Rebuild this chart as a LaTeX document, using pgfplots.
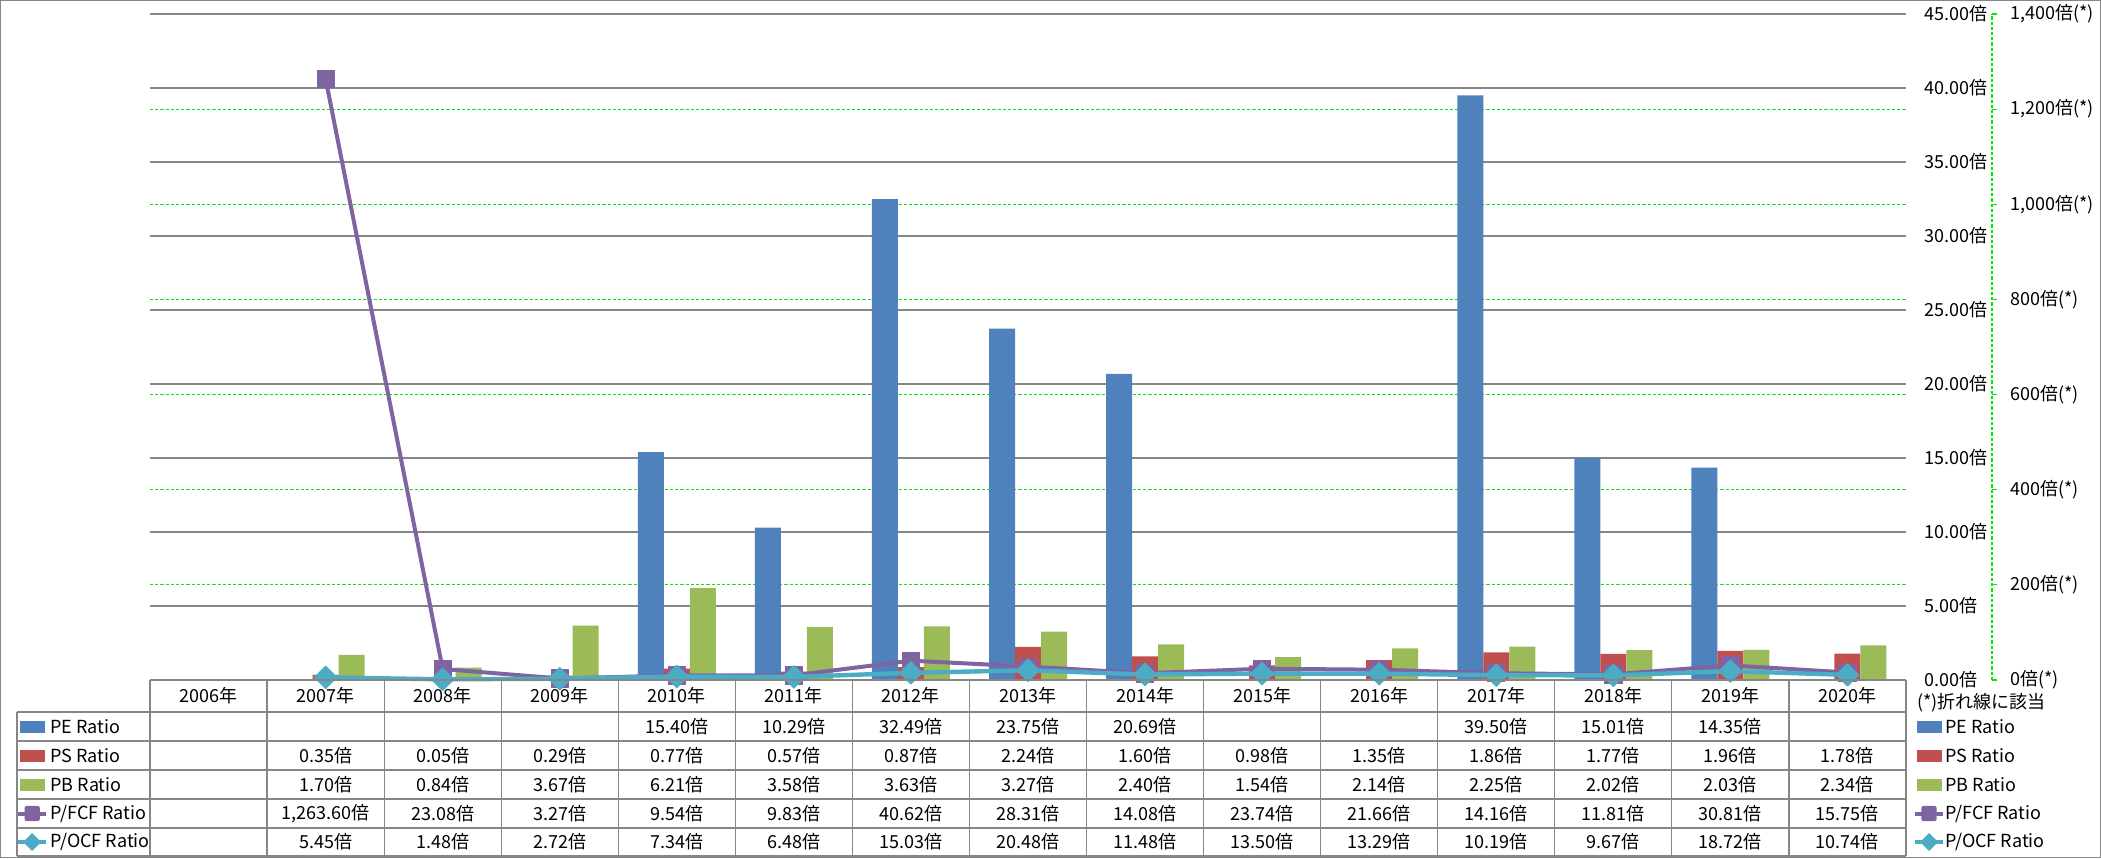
\documentclass[border=0pt]{standalone}
\usepackage{pgfplots}
\pgfplotsset{compat=1.18}
\usepackage{fontspec}
\setmainfont{Noto Sans CJK JP}
\definecolor{peblue}{HTML}{4F81BD}
\definecolor{psred}{HTML}{C0504D}
\definecolor{pbgreen}{HTML}{9BBB59}
\definecolor{fcfpurple}{HTML}{8064A2}
\definecolor{ocfcyan}{HTML}{4BACC6}
\definecolor{gridgray}{HTML}{868686}
\definecolor{gridgreen}{RGB}{0,235,0}
\newcommand\legbar[3]{\begin{scope}[shift={(#2,#3)}]\fill[#1] (-6.25pt,-3pt) rectangle (6.25pt,3pt);\end{scope}}
\newcommand\legfcf[2]{\begin{scope}[shift={(#1,#2)}]\draw[fcfpurple,line width=2pt] (-7pt,0) -- (7pt,0); \fill[fcfpurple, rounded corners=1pt] (-3.8pt,-3.8pt) rectangle (3.8pt,3.8pt);\end{scope}}
\newcommand\legocf[2]{\begin{scope}[shift={(#1,#2)}]\draw[ocfcyan,line width=2pt] (-7pt,0) -- (7pt,0); \fill[ocfcyan] (0,4.5pt) -- (4.5pt,0) -- (0,-4.5pt) -- (-4.5pt,0) -- cycle;\end{scope}}
\begin{document}
\fontsize{9pt}{11pt}\selectfont
\begin{tikzpicture}[font=\fontsize{9pt}{11pt}\selectfont]
\useasboundingbox (-75pt,-89pt) rectangle (975.5pt,340pt);
\pgfplotsset{base/.style={scale only axis, width=878pt, height=333pt, at={(0pt,0pt)}, anchor=south west,
  xmin=-0.5, xmax=14.5, xtick=\empty, major tick length=0pt, axis line style={draw=none},
  /pgf/number format/assume math mode=true,
  every tick label/.append style={font=\fontsize{9pt}{11pt}\selectfont}}}
% secondary (green) grid
\begin{axis}[base, ymin=0, ymax=1400, ytick={200,400,...,1200}, yticklabels={}, ymajorgrids,
  grid style={draw=gridgreen, line width=0.6pt, dash pattern=on 1.6pt off 1pt}]
\addplot[draw=none] coordinates {(0,0)};
\end{axis}
% bars on primary axis
\begin{axis}[base, ymin=0, ymax=45, ytick={0,5,...,45}, ymajorgrids,
  grid style={draw=gridgray, line width=0.6pt}, yticklabel pos=right,
  yticklabel={\pgfmathprintnumber[fixed,fixed zerofill,precision=2]{\tick}倍},
  yticklabel style={anchor=west, inner sep=0pt, xshift=9pt}]
\addplot[ybar, bar width=13pt, bar shift=-13pt, fill=peblue, draw=none] coordinates {(4,15.40) (5,10.29) (6,32.49) (7,23.75) (8,20.69) (11,39.50) (12,15.01) (13,14.35)};
\addplot[ybar, bar width=13pt, bar shift=0pt, fill=psred, draw=none] coordinates {(1,0.35) (2,0.05) (3,0.29) (4,0.77) (5,0.57) (6,0.87) (7,2.24) (8,1.60) (9,0.98) (10,1.35) (11,1.86) (12,1.77) (13,1.96) (14,1.78)};
\addplot[ybar, bar width=13pt, bar shift=13pt, fill=pbgreen, draw=none] coordinates {(1,1.70) (2,0.84) (3,3.67) (4,6.21) (5,3.58) (6,3.63) (7,3.27) (8,2.40) (9,1.54) (10,2.14) (11,2.25) (12,2.02) (13,2.03) (14,2.34)};
\end{axis}
% lines on secondary axis
\begin{axis}[base, ymin=0, ymax=1400, hide axis, clip=false]
\addplot[fcfpurple, line width=2pt, line join=round, mark=square*, mark size=4.3pt,
  mark options={fill=fcfpurple, draw=fcfpurple, line width=0.4pt, rounded corners=1pt}]
  coordinates {(1,1263.60) (2,23.08) (3,3.27) (4,9.54) (5,9.83) (6,40.62) (7,28.31) (8,14.08) (9,23.74) (10,21.66) (11,14.16) (12,11.81) (13,30.81) (14,15.75)};
\addplot[ocfcyan, line width=2.2pt, line join=round, mark=square*, mark size=4pt,
  mark options={rotate=45, fill=ocfcyan, draw=ocfcyan, line width=0.4pt}]
  coordinates {(1,5.45) (2,1.48) (3,2.72) (4,7.34) (5,6.48) (6,15.03) (7,20.48) (8,11.48) (9,13.50) (10,13.29) (11,10.19) (12,9.67) (13,18.72) (14,10.74)};
\end{axis}
% secondary axis line and labels
\begin{axis}[scale only axis, width=921pt, height=333pt, at={(0pt,0pt)}, anchor=south west,
  xmin=0, xmax=1, ymin=0, ymax=1400, axis x line=none, axis y line*=right,
  y axis line style={draw=gridgreen, line width=0.6pt, dash pattern=on 1.6pt off 1pt},
  ytick={0,200,...,1400}, ytick style={draw=gridgreen, line width=0.6pt, solid},
  major tick length=2.5pt, tick align=outside,
  /pgf/number format/assume math mode=true,
  every tick label/.append style={font=\fontsize{9pt}{11pt}\selectfont},
  yticklabel={\pgfmathprintnumber[fixed,precision=0,1000 sep={,}]{\tick}倍(*)},
  yticklabel style={anchor=west, inner sep=0pt, xshift=6.5pt}]
\addplot[draw=none] coordinates {(0,0)};
\end{axis}
% data table
\begin{scope}[gridgray, line width=0.6pt]
\draw (0pt,0pt) -- (878pt,0pt);
\foreach \y in {-16,-30.5,-45,-59.5,-74,-88} \draw (-66.5pt,\y pt) -- (878pt,\y pt);
\foreach \k in {0,...,15} \draw ({\k*58.5333pt},0pt) -- ({\k*58.5333pt},-88pt);
\draw (-66.5pt,-16pt) -- (-66.5pt,-88pt);
\end{scope}
\foreach \k in {0,...,14} {\pgfmathtruncatemacro\yr{2006+\k}\node at ({(\k+0.5)*58.5333pt},-8pt) {\yr{}年};}
\foreach \k/\v in {4/15.40,5/10.29,6/32.49,7/23.75,8/20.69,11/39.50,12/15.01,13/14.35}
  \node at ({(\k+0.5)*58.5333pt},-23.25pt) {\v{}倍};
\foreach \k/\v in {1/0.35,2/0.05,3/0.29,4/0.77,5/0.57,6/0.87,7/2.24,8/1.60,9/0.98,10/1.35,11/1.86,12/1.77,13/1.96,14/1.78}
  \node at ({(\k+0.5)*58.5333pt},-37.75pt) {\v{}倍};
\foreach \k/\v in {1/1.70,2/0.84,3/3.67,4/6.21,5/3.58,6/3.63,7/3.27,8/2.40,9/1.54,10/2.14,11/2.25,12/2.02,13/2.03,14/2.34}
  \node at ({(\k+0.5)*58.5333pt},-52.25pt) {\v{}倍};
\foreach \k/\v in {1/1{,}263.60,2/23.08,3/3.27,4/9.54,5/9.83,6/40.62,7/28.31,8/14.08,9/23.74,10/21.66,11/14.16,12/11.81,13/30.81,14/15.75}
  \node at ({(\k+0.5)*58.5333pt},-66.75pt) {\v{}倍};
\foreach \k/\v in {1/5.45,2/1.48,3/2.72,4/7.34,5/6.48,6/15.03,7/20.48,8/11.48,9/13.50,10/13.29,11/10.19,12/9.67,13/18.72,14/10.74}
  \node at ({(\k+0.5)*58.5333pt},-81pt) {\v{}倍};
% row labels (left) and legend (right)
\foreach \x/\tx in {-58.9pt/-50pt, 889.5pt/897.5pt} {
  \legbar{peblue}{\x}{-23.25pt}
  \legbar{psred}{\x}{-37.75pt}
  \legbar{pbgreen}{\x}{-52.25pt}
  \legfcf{\x}{-66.75pt}
  \legocf{\x}{-81pt}
  \node[anchor=west, inner sep=0pt] at (\tx,-23.25pt) {PE Ratio};
  \node[anchor=west, inner sep=0pt] at (\tx,-37.75pt) {PS Ratio};
  \node[anchor=west, inner sep=0pt] at (\tx,-52.25pt) {PB Ratio};
  \node[anchor=west, inner sep=0pt] at (\tx,-66.75pt) {P/FCF Ratio};
  \node[anchor=west, inner sep=0pt] at (\tx,-81pt) {P/OCF Ratio};
}
\node[anchor=west, inner sep=0pt] at (883.5pt,-11.5pt) {(*)折れ線に該当};
\draw[gridgray, line width=0.6pt] (-74.7pt,-88.7pt) rectangle (975.2pt,339.7pt);
\end{tikzpicture}
\end{document}
